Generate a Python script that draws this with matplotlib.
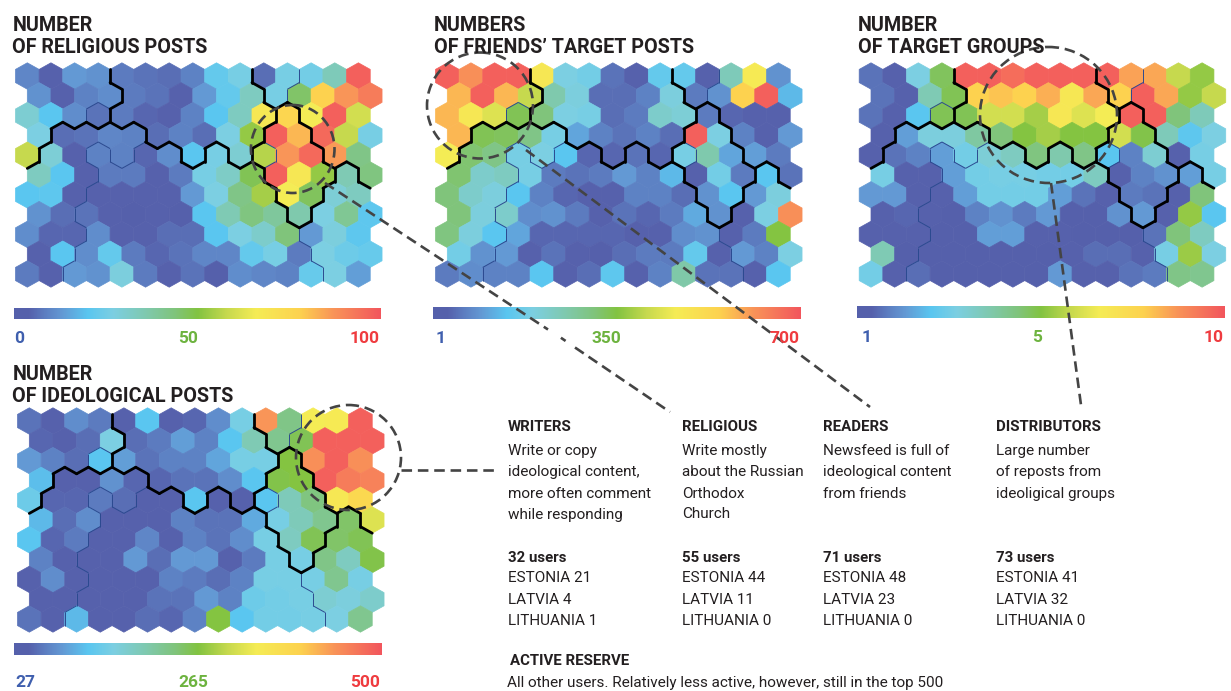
import matplotlib
matplotlib.use("Agg")
import matplotlib.pyplot as plt
import numpy as np
from matplotlib.collections import LineCollection, PolyCollection
from matplotlib.colors import LinearSegmentedColormap, Normalize
from matplotlib.patches import Ellipse

plt.rcParams["font.family"] = ["Roboto", "DejaVu Sans"]

W, H = 1231, 691

# cell values, read as percent of each map's legend (rows top to bottom)
religious = [
    [10, 3, 13, 12, 8, 7, 6, 9, 22, 26, 6, 26, 25, 34, 98],
    [12, 4, 9, 11, 8, 7, 4, 13, 22, 33, 26, 46, 78, 87, 92],
    [30, 20, 11, 7, 8, 5, 4, 9, 20, 33, 68, 76, 66, 98, 60],
    [27, 6, 7, 10, 9, 6, 9, 6, 27, 52, 98, 82, 96, 58, 26],
    [58, 29, 3, 9, 9, 5, 11, 20, 26, 30, 56, 87, 96, 86, 42],
    [33, 20, 4, 8, 8, 4, 8, 26, 32, 48, 98, 68, 52, 35, 43],
    [20, 21, 4, 4, 4, 4, 3, 13, 27, 42, 54, 66, 47, 29, 33],
    [12, 6, 7, 3, 2, 4, 2, 20, 35, 43, 39, 36, 27, 40, 21],
    [11, 5, 5, 11, 4, 4, 6, 6, 20, 27, 31, 44, 13, 28, 21],
    [4, 20, 11, 22, 8, 5, 7, 10, 10, 22, 26, 8, 27, 24, 23],
    [8, 4, 13, 12, 28, 8, 4, 7, 2, 11, 10, 9, 23, 27, 14],
]
friends = [
    [98, 88, 98, 98, 68, 27, 25, 7, 3, 22, 22, 4, 34, 67, 12],
    [82, 98, 82, 58, 36, 28, 6, 6, 9, 28, 8, 12, 78, 98, 18],
    [82, 68, 62, 48, 44, 27, 26, 6, 8, 31, 29, 8, 5, 3, 4],
    [82, 48, 47, 42, 26, 15, 9, 7, 9, 6, 98, 27, 9, 4, 13],
    [66, 45, 42, 26, 27, 20, 5, 5, 7, 5, 26, 36, 15, 14, 8],
    [45, 31, 33, 26, 8, 7, 8, 13, 9, 18, 3, 25, 8, 20, 7],
    [44, 31, 28, 20, 9, 5, 4, 4, 9, 9, 6, 12, 20, 13, 28],
    [44, 28, 31, 11, 12, 8, 4, 7, 5, 8, 16, 12, 4, 27, 88],
    [43, 28, 20, 15, 5, 5, 5, 5, 3, 4, 11, 12, 4, 8, 50],
    [25, 12, 13, 4, 7, 3, 2, 6, 8, 8, 22, 3, 13, 9, 27],
    [8, 11, 9, 9, 20, 4, 6, 21, 3, 9, 37, 7, 7, 4, 20],
]
groups = [
    [7, 3, 27, 47, 98, 98, 95, 98, 98, 98, 98, 85, 84, 58, 52],
    [7, 4, 35, 48, 78, 80, 78, 83, 68, 84, 78, 98, 84, 52, 58],
    [7, 4, 20, 48, 48, 60, 60, 54, 68, 62, 66, 98, 98, 44, 34],
    [4, 14, 28, 28, 38, 44, 50, 54, 50, 50, 60, 49, 34, 21, 27],
    [3, 7, 9, 14, 25, 29, 33, 43, 36, 42, 20, 9, 30, 3, 26],
    [26, 3, 3, 14, 25, 26, 26, 25, 25, 33, 3, 9, 12, 14, 26],
    [13, 13, 4, 3, 14, 25, 25, 25, 14, 7, 3, 8, 7, 4, 44],
    [3, 5, 3, 2, 9, 12, 8, 13, 2, 2, 12, 13, 3, 52, 20],
    [3, 3, 3, 2, 2, 14, 14, 4, 3, 2, 2, 2, 7, 44, 33],
    [35, 2, 2, 2, 2, 2, 2, 2, 3, 6, 6, 3, 26, 53, 27],
    [25, 3, 6, 2, 2, 2, 2, 2, 13, 3, 3, 7, 8, 42, 41],
]
ideological = [
    [7, 4, 11, 8, 3, 20, 4, 5, 11, 26, 87, 42, 66, 67, 98],
    [5, 4, 6, 27, 6, 8, 14, 9, 20, 35, 41, 48, 98, 98, 98],
    [13, 9, 6, 20, 14, 7, 9, 9, 15, 26, 26, 50, 88, 98, 88],
    [19, 4, 4, 12, 5, 5, 7, 7, 11, 20, 49, 50, 98, 92, 91],
    [24, 5, 5, 8, 6, 4, 4, 20, 4, 4, 20, 34, 43, 68, 75],
    [18, 6, 11, 4, 4, 3, 9, 7, 7, 16, 26, 34, 41, 46, 62],
    [20, 5, 8, 3, 3, 10, 4, 9, 7, 11, 26, 33, 48, 46, 48],
    [9, 4, 3, 3, 13, 6, 13, 13, 4, 8, 26, 26, 42, 33, 49],
    [4, 11, 4, 3, 3, 3, 9, 8, 6, 9, 26, 26, 26, 41, 26],
    [4, 4, 3, 3, 3, 7, 7, 13, 9, 24, 25, 26, 30, 28, 31],
    [7, 4, 18, 3, 3, 6, 5, 9, 50, 20, 25, 25, 26, 27, 41],
]

# cluster of each cell, same for all four maps
clusters = [
    [0, 0, 0, 0, 2, 2, 2, 2, 2, 2, 3, 3, 4, 4, 4],
    [0, 0, 0, 0, 2, 2, 2, 2, 2, 2, 3, 4, 4, 4, 4],
    [0, 0, 0, 1, 2, 2, 2, 2, 2, 2, 2, 5, 4, 4, 4],
    [0, 7, 7, 7, 7, 2, 2, 2, 2, 2, 5, 5, 4, 4, 4],
    [0, 7, 7, 8, 7, 8, 8, 2, 8, 2, 6, 5, 5, 4, 4],
    [7, 7, 7, 8, 8, 8, 8, 8, 8, 8, 5, 5, 5, 9, 4],
    [7, 7, 7, 8, 8, 8, 8, 8, 8, 8, 8, 5, 5, 9, 9],
    [7, 7, 8, 8, 8, 8, 8, 8, 8, 8, 8, 5, 9, 9, 9],
    [7, 7, 7, 8, 8, 8, 8, 8, 8, 8, 8, 8, 9, 9, 9],
    [7, 7, 8, 8, 8, 8, 8, 8, 8, 8, 8, 8, 9, 9, 9],
    [7, 7, 8, 8, 8, 8, 8, 8, 8, 8, 8, 8, 8, 9, 9],
]
thin_pairs = [{0, 1}, {3, 4}, {5, 6}, {7, 8}, {8, 9}]

titles = [
    ("NUMBER", "OF RELIGIOUS POSTS"),
    ("NUMBERS", "OF FRIENDS\u2019 TARGET POSTS"),
    ("NUMBER", "OF TARGET GROUPS"),
    ("NUMBER", "OF IDEOLOGICAL POSTS"),
]
scale_labels = [("0", "50", "100"), ("1", "350", "700"), ("1", "5", "10"), ("27", "265", "500")]

group_names = ["WRITERS", "RELIGIOUS", "READERS", "DISTRIBUTORS"]
group_texts = [
    ["Write or copy", "ideological content,", "more often comment", "while responding"],
    ["Write mostly", "about the Russian", "Orthodox", "Church"],
    ["Newsfeed is full of", "ideological content", "from friends"],
    ["Large number", "of reposts from", "ideoligical groups"],
]
users = [32, 55, 71, 73]
estonia = [21, 44, 48, 41]
latvia = [4, 11, 23, 32]
lithuania = [1, 0, 0, 0]

cmap = LinearSegmentedColormap.from_list("som", [
    (0.00, "#5560AB"), (0.04, "#5661AC"), (0.08, "#5C7CC0"), (0.13, "#6399D4"), (0.20, "#5AC6F0"),
    (0.27, "#7CCFE2"), (0.36, "#7FC9AE"), (0.44, "#80C47A"), (0.50, "#82C341"),
    (0.58, "#C6D94E"), (0.66, "#F5EC55"), (0.78, "#FDD24F"), (0.87, "#F99558"),
    (1.00, "#F2565D"),
])
norm = Normalize(0, 100)

DX, DY = 23.65, 19.8   # hex spacing in px


def px_axes(fig, x0, y0, x1, y1):
    return fig.add_axes([x0 / W, 1 - y1 / H, (x1 - x0) / W, (y1 - y0) / H])


def cell_center(r, c):
    return c + (0.5 if r % 2 else 0.0), r


def cell_edge(r, c, a, b):
    # vertices clockwise from the top of a pointy hexagon, y pointing down
    hex_pts = [(0, -2 / 3), (0.5, -1 / 3), (0.5, 1 / 3), (0, 2 / 3), (-0.5, 1 / 3), (-0.5, -1 / 3)]
    cx, cy = cell_center(r, c)
    return [(cx + hex_pts[a][0], cy + hex_pts[a][1]), (cx + hex_pts[b][0], cy + hex_pts[b][1])]


def draw_map(fig, values, ox, oy):
    """ox, oy: pixel position of the centre of the top-left hexagon."""
    ax = px_axes(fig, ox - DX, oy - DY, ox + 15.5 * DX, oy + 11 * DY)
    ax.set_xlim(-1, 15.5)
    ax.set_ylim(11, -1)
    ax.axis("off")

    vals = np.array(values, dtype=float)
    nrows, ncols = vals.shape
    hex_x = np.array([0, 0.5, 0.5, 0, -0.5, -0.5])
    hex_y = np.array([-2, -1, 1, 2, 1, -1]) / 3
    verts = []
    for r in range(nrows):
        for c in range(ncols):
            cx, cy = cell_center(r, c)
            verts.append(np.column_stack([cx + hex_x, cy + hex_y]))
    pc = PolyCollection(verts, array=vals.ravel(), cmap=cmap, norm=norm, edgecolors="face", linewidths=0.5)
    ax.add_collection(pc)

    # cluster borders, taken from where neighbouring labels differ
    thick, thin = [], []
    for r in range(nrows):
        for c in range(ncols):
            here = clusters[r][c]
            neighbours = [(r, c + 1, 1, 2)]
            shift = 1 if r % 2 else 0
            neighbours.append((r + 1, c + shift, 2, 3))
            neighbours.append((r + 1, c + shift - 1, 3, 4))
            for nr, nc, a, b in neighbours:
                if not (0 <= nr < nrows and 0 <= nc < ncols):
                    continue
                there = clusters[nr][nc]
                if there == here:
                    continue
                (thin if {here, there} in thin_pairs else thick).append(cell_edge(r, c, a, b))
    ax.add_collection(LineCollection(thin, colors="#2B4A90", linewidths=0.7))
    ax.add_collection(LineCollection(thick, colors="black", linewidths=2.0, capstyle="round", joinstyle="round"))


def draw_scale(fig, x0, y0, x1, y1):
    ax = px_axes(fig, x0, y0, x1, y1)
    ax.imshow(np.linspace(0, 100, 512).reshape(1, -1), aspect="auto", cmap=cmap, norm=norm)
    ax.axis("off")


fig = plt.figure(figsize=(W / 100, H / 100), dpi=100, facecolor="white")

all_maps = [religious, friends, groups, ideological]
map_origin = [(27.3, 76), (447.3, 76), (871, 76), (29.3, 421)]
scale_box = [(14.3, 307.7, 381, 319.3), (432.7, 306.7, 800, 318.7), (857.3, 306, 1225, 318), (13.7, 643.3, 381, 655)]
for vals, (ox, oy), box in zip(all_maps, map_origin, scale_box):
    draw_map(fig, vals, ox, oy)
    draw_scale(fig, *box)

# page layer for text and the dashed call-outs
page = fig.add_axes([0, 0, 1, 1], facecolor="none", zorder=10)
page.set_xlim(0, W)
page.set_ylim(H, 0)
page.axis("off")

ink = "#231F20"
title_x = [12.5, 434, 858, 12.5]
title_y = [(31, 52.7), (31, 52.7), (31, 52.7), (380, 402)]
for (l1, l2), x, (y1, y2) in zip(titles, title_x, title_y):
    page.text(x, y1, l1, fontsize=14.2, fontweight="bold", color=ink, va="baseline")
    page.text(x, y2, l2, fontsize=14.2, fontweight="bold", color=ink, va="baseline")

BLUE, GREEN, RED = "#3F5FAE", "#6DB33F", "#EF3B3F"
scale_x = [(14, 188, 380), (435.7, 606.7, 799), (862, 1037, 1224), (15, 193, 380)]
scale_y = [342.7, 342.7, 342, 687]
for (lo, mid, hi), (x0, x1, x2), y in zip(scale_labels, scale_x, scale_y):
    page.text(x0, y, lo, fontsize=12.5, fontweight="bold", color=BLUE, ha="left", va="baseline")
    page.text(x1, y, mid, fontsize=12.5, fontweight="bold", color=GREEN, ha="center", va="baseline")
    page.text(x2, y, hi, fontsize=12.5, fontweight="bold", color=RED, ha="right", va="baseline")

col_x = [507.5, 682, 822.7, 995.7]
body_y = [454.5, 476, 497.5, 518.5]
for i, x in enumerate(col_x):
    page.text(x, 430.7, group_names[i], fontsize=10.8, fontweight="bold", color=ink, va="baseline")
    for line, y in zip(group_texts[i], body_y):
        page.text(x, y, line, fontsize=11, color=ink, va="baseline")
    page.text(x, 561.7, f"{users[i]} users", fontsize=10.8, fontweight="bold", color=ink, va="baseline")
    page.text(x, 582.5, f"ESTONIA {estonia[i]}", fontsize=11, color=ink, va="baseline")
    page.text(x, 604, f"LATVIA {latvia[i]}", fontsize=11, color=ink, va="baseline")
    page.text(x, 625, f"LITHUANIA {lithuania[i]}", fontsize=11, color=ink, va="baseline")

page.text(509.5, 665, "ACTIVE RESERVE", fontsize=10.8, fontweight="bold", color=ink, va="baseline")
page.text(507, 686.7, "All other users. Relatively less active, however, still in the top 500",
          fontsize=11, color=ink, va="baseline")

# dashed circles and leader lines
dash = dict(color="#444444", linewidth=1.9, linestyle=(0, (4.0, 2.2)))
for xy, w, h in [((292.7, 149), 83.6, 88), ((480, 105.5), 106, 106), ((1048.5, 115), 137, 136), ((348.5, 457.5), 105, 105)]:
    page.add_patch(Ellipse(xy, w, h, fill=False, edgecolor=dash["color"], linewidth=dash["linewidth"], linestyle=dash["linestyle"]))
# religious leader has a small break where it meets the 350 label
page.plot([325, 548], [183, 329.5], **dash)
page.plot([562, 564.5], [338.5, 340.2], color=dash["color"], linewidth=dash["linewidth"])
page.plot([575, 670], [347.5, 412], **dash)
page.plot([526, 870], [150, 407], **dash)
page.plot([1051, 1081], [183, 405], **dash)
page.plot([401, 496], [470, 470], **dash)

fig.savefig("out.png", dpi=100, facecolor="white")
